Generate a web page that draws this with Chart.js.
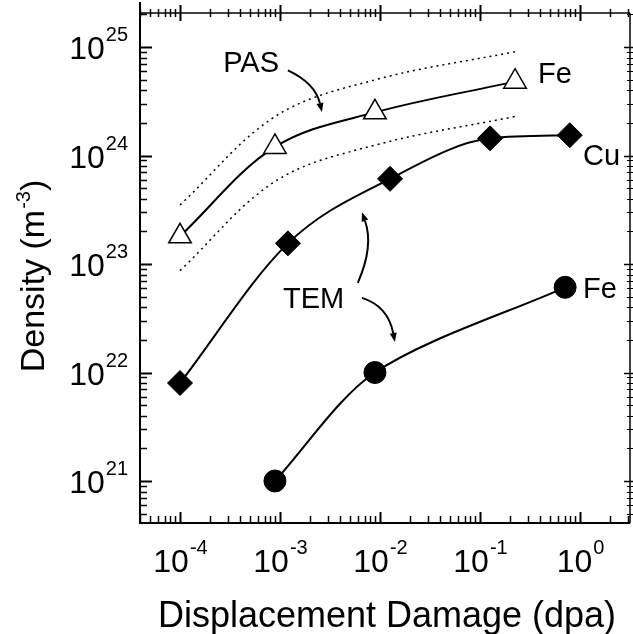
<!DOCTYPE html>
<html>
<head>
<meta charset="utf-8">
<script src="https://cdn.jsdelivr.net/npm/chart.js@4"></script>
<style>
  html, body { margin: 0; padding: 0; background: #fff; overflow: hidden; }
  canvas { display: block; }
</style>
</head>
<body>
<canvas id="densityChart" width="633" height="634"></canvas>
<script>
// values: displacement damage (dpa) vs density (m^-3)
const pasDpa = [1e-4, 8.9e-4, 8.9e-3, 0.224];
const pasFe = [1.8e23, 1.2e24, 2.5e24, 4.8e24];

const bandDpa = [1e-4, 9e-4, 9e-3, 0.23];
const bandUpper = [3.5e23, 2.3e24, 5.0e24, 9.1e24];
const bandLower = [8.7e22, 5.8e23, 1.25e24, 2.3e24];

const cuDpa = [1e-4, 1.2e-3, 1.26e-2, 0.126, 0.79];
const temCu = [8e21, 1.55e23, 6.1e23, 1.44e24, 1.54e24];

const feDpa = [8.9e-4, 8.9e-3, 0.71];
const temFe = [1e21, 1e22, 6.1e22];

const xRange = [3.98e-5, 3.162];
const yRange = [4.1e20, 2.06e25];

// annotation anchors, in data units
const notes = [
  { text: 'PAS', at: [2.7e-4, 5.9e24] },
  { text: 'TEM', at: [1.07e-3, 3.9e22] },
  { text: 'Fe', at: [0.38, 4.65e24] },
  { text: 'Cu', at: [1.07, 8.2e23] },
  { text: 'Fe', at: [1.07, 4.9e22] }
];
const arrows = [
  { from: [1.2e-3, 6.1e24], via: [2.24e-3, 4.66e24], to: [2.63e-3, 2.52e24] },
  { from: [6.0e-3, 6.7e22], via: [8.7e-3, 1.47e23], to: [6.6e-3, 3.0e23] },
  { from: [6.6e-3, 4.87e22], via: [1.2e-2, 4.1e22], to: [1.41e-2, 1.91e22] }
];

const FONT = "'Liberation Sans', Arial, Helvetica, sans-serif";
const pts = (xs, ys) => xs.map((v, i) => ({ x: v, y: ys[i] }));

function powerLabel(ctx, x, y, exp, size, align) {
  // "10" with a raised exponent; align: 'center' or 'right'
  ctx.font = size + 'px ' + FONT;
  const base = ctx.measureText('10').width;
  const small = Math.round(size * 0.62);
  ctx.font = small + 'px ' + FONT;
  const sup = ctx.measureText(exp).width;
  const total = base + sup + 1;
  const start = align === 'right' ? x - total : x - total / 2;
  ctx.font = size + 'px ' + FONT;
  ctx.fillText('10', start, y);
  ctx.font = small + 'px ' + FONT;
  ctx.fillText(exp, start + base + 1, y - size * 0.56);
}

const decor = {
  id: 'decor',
  afterDraw(chart) {
    const { ctx, chartArea: a, scales: { x, y } } = chart;
    ctx.save();
    ctx.strokeStyle = '#000';
    ctx.fillStyle = '#000';
    ctx.lineCap = 'butt';
    const seg = (x1, y1, x2, y2, w) => {
      ctx.lineWidth = w;
      ctx.beginPath(); ctx.moveTo(x1, y1); ctx.lineTo(x2, y2); ctx.stroke();
    };

    // frame
    seg(a.left, 2, a.left, a.bottom + 1, 2);
    seg(a.left - 1, a.bottom, a.right, a.bottom, 2);
    seg(a.left, a.top, a.right, a.top, 1.5);
    seg(a.right, a.top, a.right, a.bottom, 1.5);

    ctx.textBaseline = 'alphabetic';
    ctx.textAlign = 'left';

    // x ticks
    for (let e = Math.floor(Math.log10(x.min)); e <= Math.ceil(Math.log10(x.max)); e++) {
      for (let m = 1; m < 10; m++) {
        const v = m * Math.pow(10, e);
        if (v < x.min || v > x.max) continue;
        const px = Math.round(x.getPixelForValue(v)) + 0.5;
        const major = m === 1;
        seg(px, a.bottom, px, a.bottom - (major ? 11 : 7), major ? 2 : 1.5);
        seg(px, a.top - (major ? 8 : 4), px, a.top + (major ? 8 : 4), major ? 2 : 1.5);
        if (major) powerLabel(ctx, px, a.bottom + 49, String(e), 32, 'center');
      }
    }
    // y ticks
    for (let e = Math.floor(Math.log10(y.min)); e <= Math.ceil(Math.log10(y.max)); e++) {
      for (let m = 1; m < 10; m++) {
        const v = m * Math.pow(10, e);
        if (v < y.min || v > y.max) continue;
        const py = Math.round(y.getPixelForValue(v)) + 0.5;
        const major = m === 1;
        seg(a.left, py, a.left + (major ? 12 : 7), py, major ? 2 : 1.5);
        seg(a.right - (major ? 6 : 3), py, a.right + (major ? 6 : 3), py, major ? 1.5 : 1);
        if (major) powerLabel(ctx, a.left - 12, py + 11, String(e), 32, 'right');
      }
    }

    // axis titles
    ctx.font = '36px ' + FONT;
    ctx.textAlign = 'center';
    ctx.fillText('Displacement Damage (dpa)', 387, 627);

    ctx.save();
    ctx.translate(44, 276);
    ctx.rotate(-Math.PI / 2);
    ctx.textAlign = 'left';
    ctx.font = '34px ' + FONT;
    const t1 = 'Density (m', t3 = ')';
    const w1 = ctx.measureText(t1).width, w3 = ctx.measureText(t3).width;
    ctx.font = '20px ' + FONT;
    const w2 = ctx.measureText('-3').width;
    let sx = -(w1 + w2 + w3 + 1) / 2;
    ctx.font = '34px ' + FONT;
    ctx.fillText(t1, sx, 0);
    ctx.font = '20px ' + FONT;
    ctx.fillText('-3', sx + w1 + 1, -14);
    ctx.font = '34px ' + FONT;
    ctx.fillText(t3, sx + w1 + w2 + 1, 0);
    ctx.restore();

    // notes
    ctx.textAlign = 'left';
    ctx.font = '29px ' + FONT;
    notes.forEach(n => {
      ctx.fillText(n.text, x.getPixelForValue(n.at[0]), y.getPixelForValue(n.at[1]));
    });

    // curved arrows
    arrows.forEach(ar => {
      const p0 = [x.getPixelForValue(ar.from[0]), y.getPixelForValue(ar.from[1])];
      const c = [x.getPixelForValue(ar.via[0]), y.getPixelForValue(ar.via[1])];
      const p2 = [x.getPixelForValue(ar.to[0]), y.getPixelForValue(ar.to[1])];
      const ang = Math.atan2(p2[1] - c[1], p2[0] - c[0]);
      const len = 9, half = 3.5;
      const bx = p2[0] - len * Math.cos(ang), by = p2[1] - len * Math.sin(ang);
      ctx.lineWidth = 2;
      ctx.beginPath();
      ctx.moveTo(p0[0], p0[1]);
      ctx.quadraticCurveTo(c[0], c[1], bx, by);
      ctx.stroke();
      ctx.beginPath();
      ctx.moveTo(p2[0], p2[1]);
      ctx.lineTo(bx + half * Math.sin(ang), by - half * Math.cos(ang));
      ctx.lineTo(bx - half * Math.sin(ang), by + half * Math.cos(ang));
      ctx.closePath();
      ctx.fill();
    });
    ctx.restore();
  }
};

const ctx = document.getElementById('densityChart').getContext('2d');
new Chart(ctx, {
  type: 'scatter',
  data: {
    datasets: [
      {
        label: 'PAS upper',
        data: pts(bandDpa, bandUpper),
        showLine: true,
        borderColor: '#000',
        borderWidth: 1.5,
        borderDash: [2, 4],
        pointRadius: 0,
        tension: 0.35
      },
      {
        label: 'PAS lower',
        data: pts(bandDpa, bandLower),
        showLine: true,
        borderColor: '#000',
        borderWidth: 1.5,
        borderDash: [2, 4],
        pointRadius: 0,
        tension: 0.35
      },
      {
        label: 'PAS Fe',
        data: pts(pasDpa, pasFe),
        showLine: true,
        borderColor: '#000',
        borderWidth: 2,
        tension: 0.35,
        pointStyle: 'triangle',
        pointRadius: 13,
        pointBackgroundColor: '#fff',
        pointBorderColor: '#000',
        pointBorderWidth: 1.5
      },
      {
        label: 'TEM Cu',
        data: pts(cuDpa, temCu),
        showLine: true,
        borderColor: '#000',
        borderWidth: 2,
        cubicInterpolationMode: 'monotone',
        pointStyle: 'rectRot',
        pointRadius: 12.5,
        pointBackgroundColor: '#000',
        pointBorderColor: '#000',
        pointBorderWidth: 1
      },
      {
        label: 'TEM Fe',
        data: pts(feDpa, temFe),
        showLine: true,
        borderColor: '#000',
        borderWidth: 2,
        tension: 0.3,
        pointStyle: 'circle',
        pointRadius: 11,
        pointBackgroundColor: '#000',
        pointBorderColor: '#000',
        pointBorderWidth: 1
      }
    ]
  },
  options: {
    responsive: false,
    animation: false,
    layout: { autoPadding: false, padding: { left: 140, right: 3, top: 13, bottom: 111 } },
    plugins: { legend: { display: false }, tooltip: { enabled: false } },
    scales: {
      x: { type: 'logarithmic', min: xRange[0], max: xRange[1], display: false },
      y: { type: 'logarithmic', min: yRange[0], max: yRange[1], display: false }
    }
  },
  plugins: [decor]
});
</script>
</body>
</html>
